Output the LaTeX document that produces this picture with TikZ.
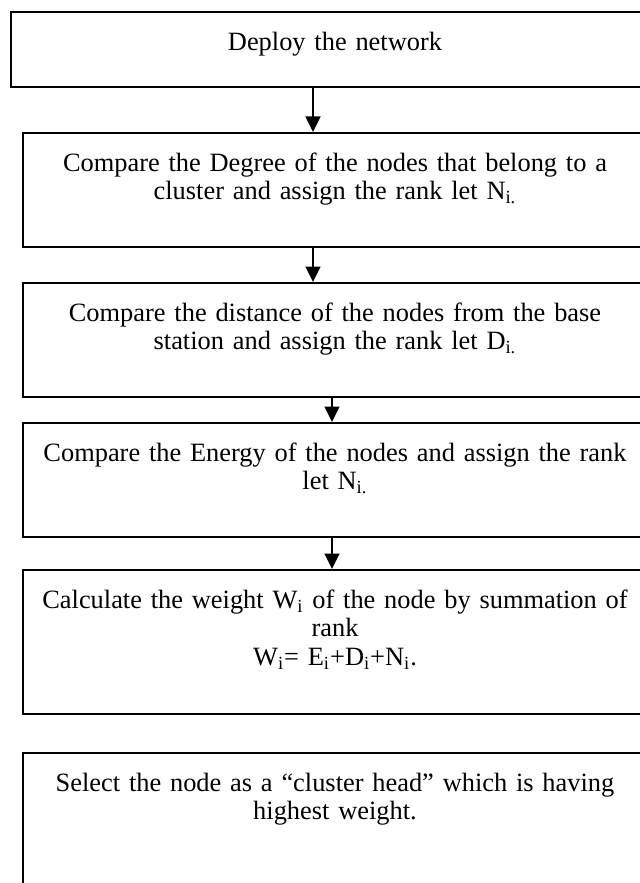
\documentclass[tikz,border=0pt]{standalone}
\usepackage{fontspec}
\setmainfont{Liberation Serif}
\usetikzlibrary{arrows.meta}
\begin{document}
\begin{tikzpicture}[x=0.5pt,y=-0.5pt,
  box/.style={draw=black,line width=0.9pt,rectangle,inner sep=0pt,minimum width=312.3pt,minimum height=57pt},
  txt/.style={anchor=north,inner sep=0pt,text width=310pt,align=center,font=\fontsize{13.2pt}{14.25pt}\selectfont},
  arr/.style={line width=1.2pt,-{Triangle[length=7.8pt,width=7.3pt]}}]
\useasboundingbox (0,0) rectangle (640,883);
\fill[white] (0,0) rectangle (640,883);
\clip (0,0) rectangle (640,883);
% boxes
\node[box,minimum width=323.75pt,minimum height=37.5pt] (b1) at (335,49.5) {};
\node[box] (b2) at (335,190) {};
\node[box] (b3) at (335,340) {};
\node[box] (b4) at (335,480) {};
\node[box,minimum height=72pt] (b5) at (335,642) {};
\node[box,minimum height=123.5pt] (b6) at (335,876.5) {};
% texts
\node[txt] (t1) at (335,30) {\rule{0pt}{10pt}Deploy the network};
\node[txt] (t2) at (335,151) {\rule{0pt}{10pt}Compare the Degree of the nodes that belong to a\\ cluster and assign the rank let N\textsubscript{i.}};
\node[txt] (t3) at (335,301) {\rule{0pt}{10pt}Compare the distance of the nodes from the base\\ station and assign the rank let D\textsubscript{i.}};
\node[txt] (t4) at (335,441) {\rule{0pt}{10pt}Compare the Energy of the nodes and assign the rank\\ let N\textsubscript{i.}};
\node[txt] (t5) at (335,588) {\rule{0pt}{10pt}Calculate the weight W\textsubscript{i} of the node by summation of\\ rank\\ W\textsubscript{i}= E\textsubscript{i}+D\textsubscript{i}+N\textsubscript{i}.};
\node[txt] (t6) at (335,771) {\rule{0pt}{10pt}Select the node as a “cluster head” which is having\\ highest weight.};
% arrows
\draw[arr] ([xshift=-11pt]b1.south) -- ([xshift=-11pt]b2.north);
\draw[arr] ([xshift=-11pt]b2.south) -- ([xshift=-11pt]b3.north);
\draw[arr] ([xshift=-1.5pt]b3.south) -- ([xshift=-1.5pt]b4.north);
\draw[arr] ([xshift=-1.5pt]b4.south) -- ([xshift=-1.5pt]b5.north);
\end{tikzpicture}
\end{document}
